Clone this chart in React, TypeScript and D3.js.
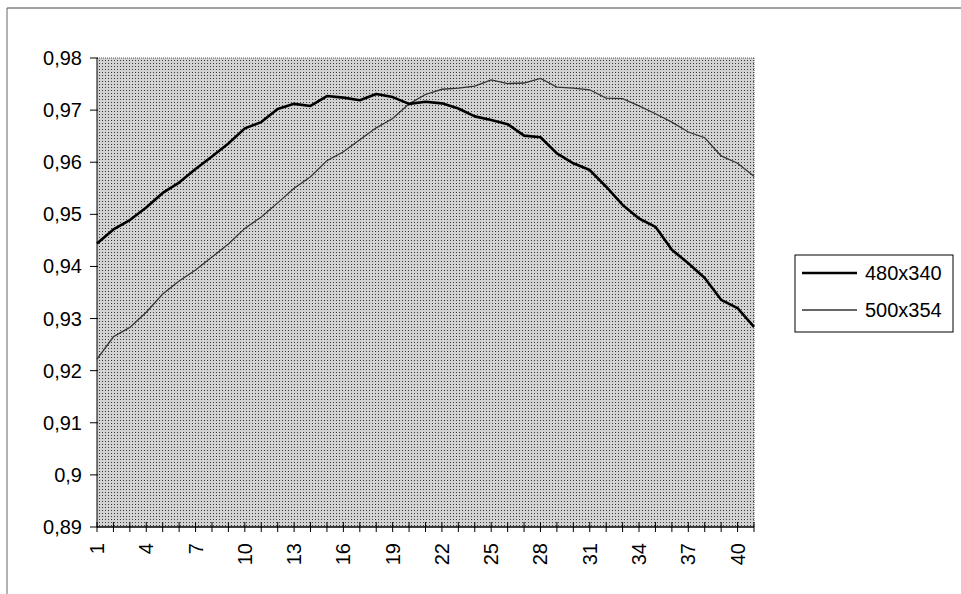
import React from 'react';
import * as d3 from 'd3';

// categories 1..41 on the x axis
const categories = [
  1, 2, 3, 4, 5, 6, 7, 8, 9, 10, 11, 12, 13, 14, 15, 16, 17, 18, 19, 20, 21,
  22, 23, 24, 25, 26, 27, 28, 29, 30, 31, 32, 33, 34, 35, 36, 37, 38, 39, 40, 41,
];
const tickLabels = [1, 4, 7, 10, 13, 16, 19, 22, 25, 28, 31, 34, 37, 40];
const yTicks = [0.89, 0.9, 0.91, 0.92, 0.93, 0.94, 0.95, 0.96, 0.97, 0.98];

const series480 = [
  0.9444, 0.9471, 0.9489, 0.9513, 0.9541, 0.9561, 0.9587, 0.9611, 0.9636, 0.9665,
  0.9677, 0.9702, 0.9712, 0.9708, 0.9727, 0.9724, 0.9719, 0.9731, 0.9725, 0.9712,
  0.9716, 0.9713, 0.9703, 0.9688, 0.9681, 0.9673, 0.9651, 0.9648, 0.9617, 0.9598,
  0.9585, 0.9553, 0.9518, 0.9492, 0.9476, 0.9432, 0.9406, 0.9378, 0.9336, 0.932,
  0.9284,
];
const series500 = [
  0.9222, 0.9265, 0.9283, 0.9312, 0.9347, 0.9372, 0.9393, 0.9418, 0.9443, 0.9473,
  0.9495, 0.9522, 0.955, 0.9572, 0.9603, 0.962, 0.9643, 0.9666, 0.9684, 0.9712,
  0.973, 0.974, 0.9742, 0.9746, 0.9758, 0.9751, 0.9752, 0.9761, 0.9744, 0.9742,
  0.9739, 0.9723, 0.9722, 0.9708, 0.9693, 0.9677, 0.9658, 0.9647, 0.9612, 0.9598,
  0.9573,
];
const seriesNames = ['480x340', '500x354'];

const App = () => {
  const width = 961;
  const height = 594;
  const left = 97, right = 754, top = 58, bottom = 527;
  const font = '"Liberation Sans", Arial, sans-serif';

  const xScale = d3.scalePoint<number>().domain(categories).range([left, right]);
  const yScale = d3.scaleLinear().domain([0.89, 0.98]).range([bottom, top]);

  const line = d3.line<number>()
    .x((d, i) => xScale(categories[i]) as number)
    .y(d => yScale(d));

  const fmt = (v: number) => String(+v.toFixed(2)).replace('.', ',');

  return (
    <svg width={width} height={height} style={{position: 'absolute', left: 0, top: 0, background: '#fff'}}>
      <defs>
        <pattern id="dots" width="3" height="3" patternUnits="userSpaceOnUse">
          <rect width="3" height="3" fill="#d2d2d2" />
          <rect width="1" height="1" fill="#3a3a3a" />
        </pattern>
      </defs>

      {/* outer frame, only top and left show */}
      <line x1={7} x2={width} y1={8} y2={8} stroke="#444" />
      <line x1={7} x2={7} y1={8} y2={height} stroke="#666" />

      {/* plot area */}
      <rect x={left} y={top} width={right - left} height={bottom - top} fill="url(#dots)" />
      <line x1={left} x2={right} y1={top} y2={top} stroke="#555" strokeDasharray="1,1" />
      <line x1={right} x2={right} y1={top} y2={bottom} stroke="#555" strokeDasharray="1,1" />

      {/* y axis */}
      <line x1={left} x2={left} y1={top} y2={bottom} stroke="#000" />
      {yTicks.map(t => (
        <g key={t}>
          <line x1={left - 7} x2={left + 1} y1={yScale(t)} y2={yScale(t)} stroke="#000" />
          <text x={82} y={yScale(t)} dy="0.35em" textAnchor="end" fontFamily={font} fontSize={20}>
            {fmt(t)}
          </text>
        </g>
      ))}

      {/* x axis */}
      <line x1={left} x2={right} y1={bottom} y2={bottom} stroke="#000" strokeWidth={1.5} />
      {categories.map(c => (
        <line key={c} x1={xScale(c)} x2={xScale(c)} y1={bottom - 5} y2={bottom + 5} stroke="#000" />
      ))}
      {tickLabels.map(c => (
        <text key={c} transform={`translate(${xScale(c)},543) rotate(-90)`} dy="0.35em"
          textAnchor="end" fontFamily={font} fontSize={20}>
          {c}
        </text>
      ))}

      {/* series */}
      <path d={line(series500) || ''} fill="none" stroke="#333" strokeWidth={1.3} />
      <path d={line(series480) || ''} fill="none" stroke="#000" strokeWidth={2.6} strokeLinejoin="round" />

      {/* legend */}
      <rect x={795} y={255} width={158} height={77} fill="#fff" stroke="#000" />
      <line x1={802} x2={857} y1={273} y2={273} stroke="#000" strokeWidth={2.6} />
      <text x={865} y={273} dy="0.35em" fontFamily={font} fontSize={20}>{seriesNames[0]}</text>
      <line x1={802} x2={857} y1={310} y2={310} stroke="#333" strokeWidth={1.3} />
      <text x={865} y={310} dy="0.35em" fontFamily={font} fontSize={20}>{seriesNames[1]}</text>
    </svg>
  );
};

export default App;
